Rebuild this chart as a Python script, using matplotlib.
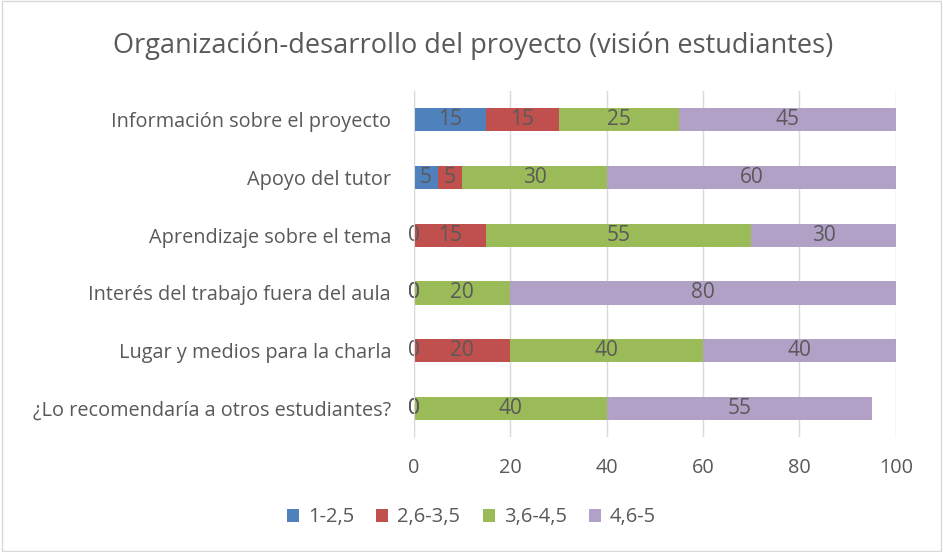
import numpy as np
from matplotlib import pyplot as plt
from matplotlib.patches import Rectangle

categories = [
    'Información sobre el proyecto',
    'Apoyo del tutor',
    'Aprendizaje sobre el tema',
    'Interés del trabajo fuera del aula',
    'Lugar y medios para la charla',
    '¿Lo recomendaría a otros estudiantes?',
]
series_names = ['1-2,5', '2,6-3,5', '3,6-4,5', '4,6-5']
s1 = [15, 5, 0, 0, 0, 0]
s2 = [15, 5, 15, 0, 20, 0]
s3 = [25, 30, 55, 20, 40, 40]
s4 = [45, 60, 30, 80, 40, 55]
xticks = [0, 20, 40, 60, 80, 100]

COLORS = ['#4F81BD', '#C0504D', '#9BBB59', '#B2A1C7']
TXT = '#595959'
FONT = 'Open Sans'

fig = plt.figure(figsize=(9.43, 5.52), dpi=100)
fig.patches.append(Rectangle((0.002, 0.002), 0.996, 0.996, transform=fig.transFigure,
                             fill=False, edgecolor='#D9D9D9', linewidth=1))
ax = fig.add_axes([0.439, 0.208, 0.511, 0.627])

y = np.arange(len(categories))
left = np.zeros(len(categories))
for name, vals, col in zip(series_names, [s1, s2, s3, s4], COLORS):
    vals = np.array(vals, dtype=float)
    ax.barh(y, vals, left=left, height=0.4, color=col, label=name, zorder=3)
    for yi, l, v in zip(y, left, vals):
        ax.text(l + v / 2, yi, f'{v:g}', ha='center', va='center',
                color=TXT, fontsize=15, family=FONT, zorder=4)
    left += vals

ax.set_xlim(0, 100)
ax.set_ylim(len(categories) - 0.5, -0.5)
ax.set_xticks(xticks)
ax.set_yticks(y)
ax.set_yticklabels(categories)
ax.grid(axis='x', color='#D9D9D9', linewidth=1, zorder=0)
for s in ['top', 'right', 'bottom']:
    ax.spines[s].set_visible(False)
ax.spines['left'].set_color('#D9D9D9')
ax.spines['left'].set_zorder(5)
ax.tick_params(length=0, colors=TXT, labelsize=14.3)
ax.tick_params(axis='y', pad=16.5)
ax.tick_params(axis='x', pad=15)
for lab in ax.get_xticklabels() + ax.get_yticklabels():
    lab.set_family(FONT)

fig.text(0.502, 0.918, 'Organización-desarrollo del proyecto (visión estudiantes)',
         ha='center', va='center', fontsize=19.5, color=TXT, family=FONT)

fig.legend(loc='center', bbox_to_anchor=(0.5, 0.063), ncol=4, frameon=False,
           handlelength=0.6, handleheight=0.6, handletextpad=0.45, columnspacing=1.1,
           prop={'family': FONT, 'size': 14.5}, labelcolor=TXT)

fig.savefig('out.png', dpi=100)
